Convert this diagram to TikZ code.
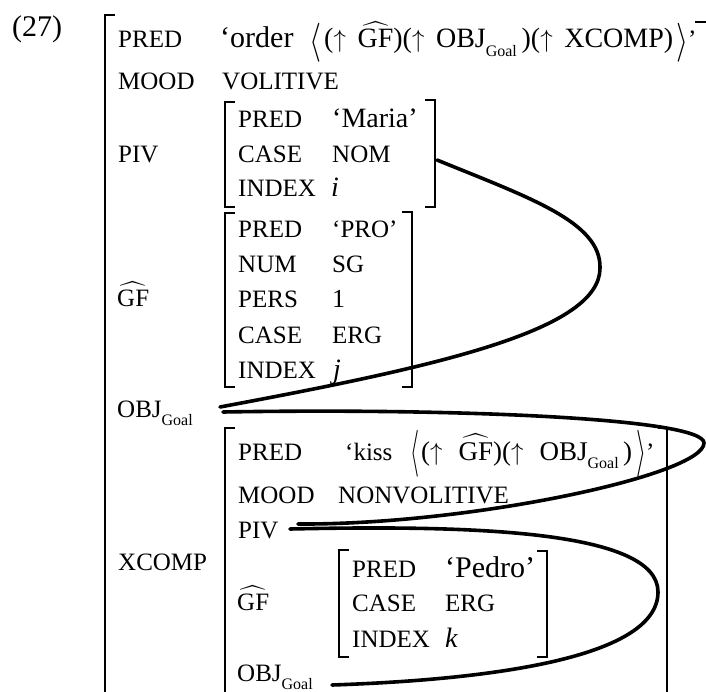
\documentclass[tikz,border=0pt]{standalone}
\usepackage{fontspec}
\usepackage{exscale}
\usepackage{graphicx}
\setmainfont{Liberation Serif}
\usetikzlibrary{positioning}

\newcommand{\gfhat}{$\widehat{\mbox{GF}}$}
\newcommand{\goal}{\raisebox{-0.32em}{\fontsize{16}{18}\selectfont Goal}}
\newcommand{\upar}{$\uparrow$}
% tall thin angle bracket: #1 total height, #2 width, #3 lift, #4 glyph
\newcommand{\tallang}[4]{\raisebox{#3}{\resizebox*{#2}{#1}{$#4$}}}

\begin{document}
\begin{tikzpicture}[x=1pt,y=-1pt]

	% ============================================================
	% COLORS
	% ============================================================
	\definecolor{ink}{HTML}{000000}

	% ============================================================
	% STYLES
	% ============================================================
	\tikzset{
		txt/.style={anchor=base west, inner sep=0pt, text=ink,
			font=\fontsize{25}{29}\selectfont},
		val/.style={txt, font=\fontsize{28}{32}\selectfont},
		brk/.style={draw=ink, line width=1.1pt},
		link/.style={draw=ink, line width=3.6pt, line cap=round}
	}

	\useasboundingbox (0,0) rectangle (706,692);

	% ============================================================
	% OUTER MATRIX - ATTRIBUTES AND VALUES
	% ============================================================
	\node[txt, font=\fontsize{30}{34}\selectfont] (exnum) at (12,37) {(27)};
	\node[txt] (predA)  at (118,48) {PRED};
	\node[val, font=\fontsize{30}{34}\selectfont] (orderV) at (220,48) {‘order};
	\node[txt] (orderL) at (309,48) {\tallang{39pt}{12pt}{-4.25pt}{\langle}};
	\node[txt, font=\fontsize{28}{32}\selectfont] (orderA) at (324,48)
		{\makebox[349pt][s]{(\upar\ \gfhat)(\upar\ OBJ\goal\,)(\upar\ XCOMP)}};
	\node[txt] (orderR) at (676,48) {\tallang{39pt}{12pt}{-4.25pt}{\rangle}’};
	\node[txt] (moodA)  at (118,90) {MOOD};
	\node[txt] (moodV)  at (222,90) {VOLITIVE};
	\node[txt] (pivA)   at (118,163) {PIV};
	\node[txt] (gfA)    at (117,306) {\gfhat};
	\node[txt] (objA)   at (117,417) {OBJ\goal};
	\node[txt] (xcompA) at (118,570) {XCOMP};

	% ============================================================
	% PIV MATRIX (Maria)
	% ============================================================
	\node[txt] (mPred)   at (238,128) {PRED};
	\node[val] (mPredV)  at (332,128) {‘Maria’};
	\node[txt] (mCase)   at (238,163) {CASE};
	\node[txt] (mCaseV)  at (332,163) {NOM};
	\node[txt] (mIndex)  at (238,197) {INDEX};
	\node[val] (mIndexV) at (331,197) {\textit{i}};

	% ============================================================
	% GF MATRIX (PRO)
	% ============================================================
	\node[txt] (pPred)   at (238,238) {PRED};
	\node[txt] (pPredV)  at (332,238) {‘PRO’};
	\node[txt] (pNum)    at (238,273) {NUM};
	\node[txt] (pNumV)   at (332,273) {SG};
	\node[txt] (pPers)   at (238,308) {PERS};
	\node[val, font=\fontsize{26}{30}\selectfont] (pPersV) at (332,308) {1};
	\node[txt] (pCase)   at (238,343) {CASE};
	\node[txt] (pCaseV)  at (332,343) {ERG};
	\node[txt] (pIndex)  at (238,378) {INDEX};
	\node[val] (pIndexV) at (333,378) {\textit{j}};

	% ============================================================
	% XCOMP MATRIX (kiss)
	% ============================================================
	\node[txt] (kPred)  at (238,460) {PRED};
	\node[txt] (kPredV) at (345,460) {‘kiss};
	\node[txt] (kissL)  at (410,460) {\tallang{47pt}{9pt}{-5.25pt}{\langle}};
	\node[txt, font=\fontsize{27}{31}\selectfont] (kPredA) at (421,460)
		{\makebox[211pt][s]{(\upar\ \gfhat)(\upar\ OBJ\goal\,)}};
	\node[txt] (kissR)  at (636,460) {\tallang{47pt}{10pt}{-5.25pt}{\rangle}’};
	\node[txt] (kMood)  at (238,503) {MOOD};
	\node[txt] (kMoodV) at (338,503) {NONVOLITIVE};
	\node[txt] (kPiv)   at (238,538) {PIV};
	\node[txt] (kGf)    at (237,610) {\gfhat};
	\node[txt] (kObj)   at (237,681) {OBJ\goal};

	% ============================================================
	% INNER GF MATRIX (Pedro)
	% ============================================================
	\node[txt] (dPred)   at (352,577) {PRED};
	\node[val, font=\fontsize{30}{34}\selectfont] (dPredV) at (445,577) {‘Pedro’};
	\node[txt] (dCase)   at (352,611) {CASE};
	\node[txt] (dCaseV)  at (445,611) {ERG};
	\node[txt] (dIndex)  at (352,647) {INDEX};
	\node[val] (dIndexV) at (445,647) {\textit{k}};

	% ============================================================
	% BRACKETS
	% ============================================================
	% outer
	\draw[brk] (115,15) -- (105,15) -- (105,700);
	\draw[brk] (695,22) -- (708,22) -- (708,700);
	% Maria
	\draw[brk] (235,102) -- (225,102) -- (225,207) -- (235,207);
	\draw[brk] (425,100) -- (435,100) -- (435,207) -- (425,207);
	% PRO
	\draw[brk] (235,213) -- (225,213) -- (225,387) -- (235,387);
	\draw[brk] (402,212) -- (412,212) -- (412,387) -- (402,387);
	% XCOMP
	\draw[brk] (235,428) -- (225,428) -- (225,700);
	\draw[brk] (658,428) -- (667,428) -- (667,700);
	% Pedro
	\draw[brk] (349,550) -- (339,550) -- (339,657) -- (349,657);
	\draw[brk] (537,551) -- (547,551) -- (547,657) -- (537,657);

	% ============================================================
	% CONTROL LINKS
	% ============================================================
	\coordinate (mariaR)  at (437,160);
	\coordinate (tipA)    at (600,268);
	\coordinate (objInA)  at (220,407);
	\coordinate (objOutA) at (223,412);
	\coordinate (tipB)    at (704,443);
	\coordinate (pivInB)  at (298,524);
	\coordinate (pivOutB) at (290,529);
	\coordinate (tipC)    at (658,592);
	\coordinate (objInB)  at (332,685);

	% Maria -> OBJ Goal
	\draw[link] (mariaR) .. controls (530,198) and (601,222) .. (tipA)
		.. controls (600,330) and (440,366) .. (objInA);
	% OBJ Goal -> PIV (xcomp)
	\draw[link] (objOutA) .. controls (450,408) and (704,418) .. (tipB)
		.. controls (704,475) and (470,525) .. (pivInB);
	% PIV (xcomp) -> OBJ Goal (xcomp)
	\draw[link] (pivOutB) .. controls (470,525) and (658,530) .. (tipC)
		.. controls (658,660) and (480,680) .. (objInB);

\end{tikzpicture}
\end{document}
